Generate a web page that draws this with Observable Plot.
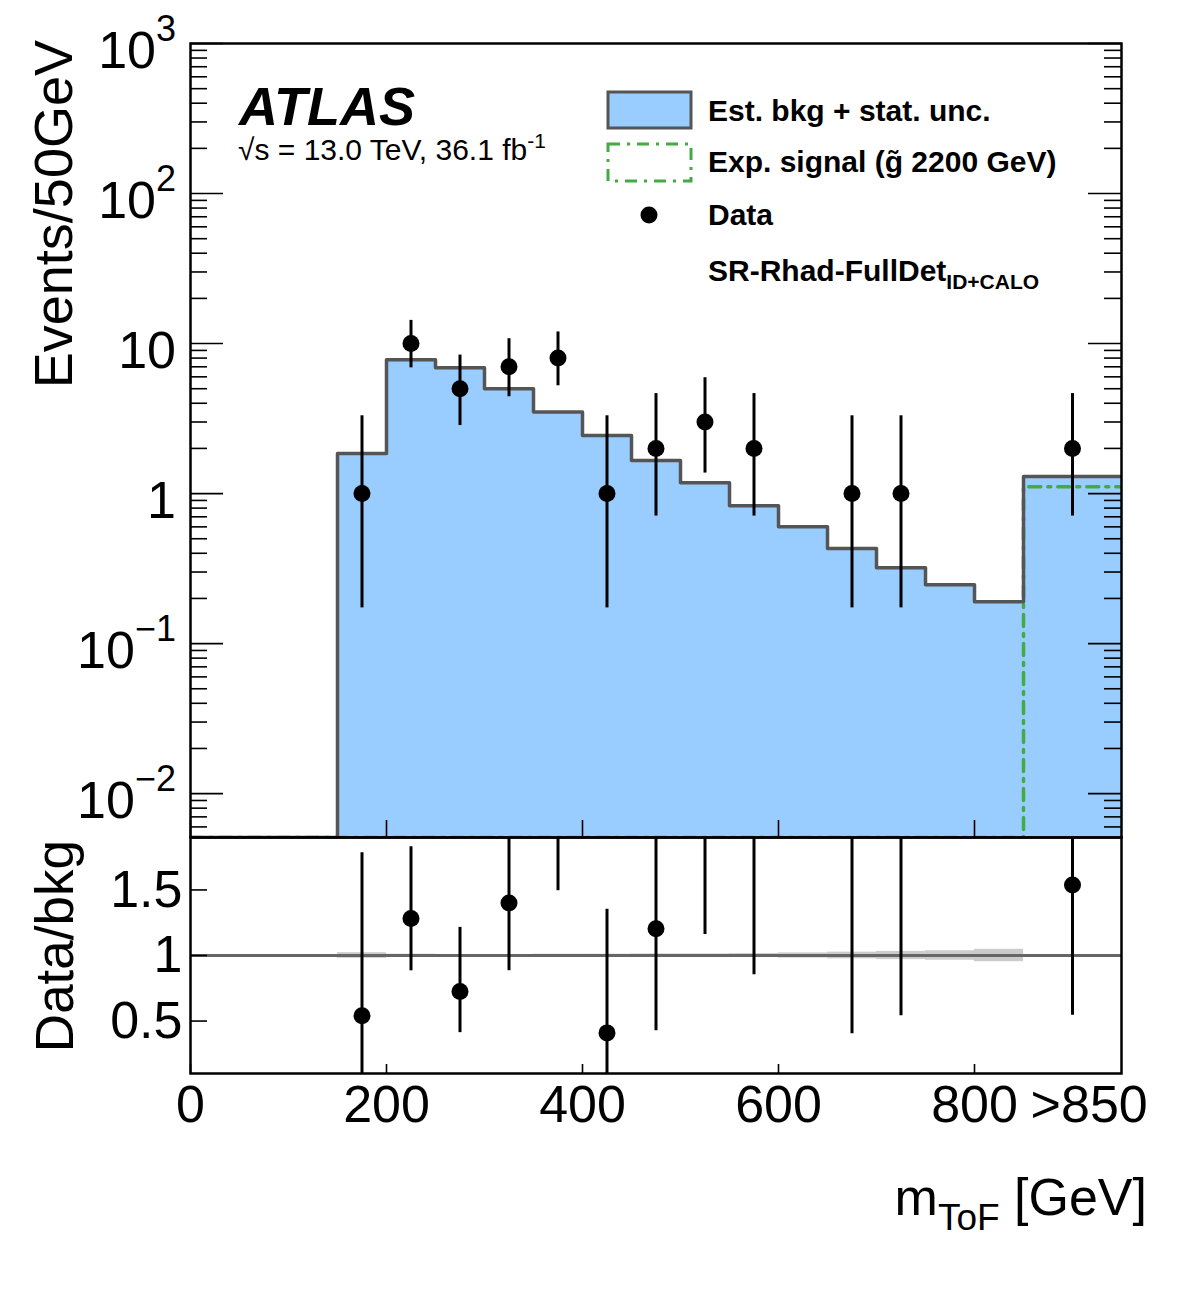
<!DOCTYPE html>
<html><head><meta charset="utf-8">
<script src="https://cdn.jsdelivr.net/npm/d3@7"></script>
<script src="https://cdn.jsdelivr.net/npm/@observablehq/plot@0.6"></script>
<style>
body{margin:0;background:#fff;}
#wrap{position:relative;width:1182px;height:1311px;background:#fff;}
#wrap svg{position:absolute;left:0;overflow:visible;}
</style></head><body><div id="wrap"></div>
<script>
// ---------- data ----------
const binEdges = [0,50,100,150,200,250,300,350,400,450,500,550,600,650,700,750,800,850,950];
const bkg = [0,0,0,1.85,7.8,6.9,5.0,3.5,2.44,1.66,1.18,0.83,0.60,0.43,0.32,0.247,0.19,1.30];
const bkgStatUnc = [0,0,0,0.04,0.08,0.055,0.04,0.035,0.025,0.02,0.014,0.012,0.012,0.011,0.01,0.009,0.009,0.007];
const signal = [0,0,0,0,0,0,0,0,0,0,0,0,0,0,0,0,0,1.11];
const dataCounts = [0,0,0,1,10,5,7,8,1,2,3,2,0,1,1,0,0,2];
const dataLow  = [0,0,0,0.173,6.89,2.84,4.42,5.23,0.173,0.708,1.37,0.708,0,0.173,0.173,0,0,0.708];
const dataHigh = [0,0,0,3.30,14.27,8.38,10.77,11.95,3.30,4.64,5.92,4.64,0,3.30,3.30,0,0,4.64];

const yMajor = [0.01,0.1,1,10,100,1000];
const yLabelBase = ["10","10","1","10","10","10"];
const yLabelExp = ["\u22122","\u22121","","","2","3"];
const ratioTicks = [0.5,1,1.5];
const ratioTickLabels = ["0.5","1","1.5"];
const xTickValues = [0,200,400,600,800];
const xLabelPos = [0,200,400,600,800,917];
const xLabelText = ["0","200","400","600","800",">850"];

// ---------- layout ----------
const FONT = '"Liberation Sans", Arial, Helvetica, sans-serif';
const W = 1182, ML = 190, MR = 61;
const PW = W - ML - MR;
const TOP_H = 794, RAT_H = 236;
const yMin = 0.0051, yMax = 1000;
const BKG_FILL = "#99ccff", LINE = "#555555", SIG = "#44aa44";
const SIG_DASH = "12,7,3,7";

const bins = bkg.map((b, i) => ({
  x1: binEdges[i], x2: binEdges[i + 1], xc: (binEdges[i] + binEdges[i + 1]) / 2,
  bkg: b, unc: bkgStatUnc[i], sig: signal[i], n: dataCounts[i], lo: dataLow[i], hi: dataHigh[i]
}));
const outline = bins.flatMap(d => [{x: d.x1, y: Math.max(d.bkg, yMin)}, {x: d.x2, y: Math.max(d.bkg, yMin)}]);
const sigLine = bins.flatMap(d => [{x: d.x1, y: Math.max(d.sig, yMin)}, {x: d.x2, y: Math.max(d.sig, yMin)}]);
const dataBins = bins.filter(d => d.n > 0);

// minor log ticks
const yMinor = [];
for (let e = -3; e <= 2; e++) for (let m = 2; m <= 9; m++) {
  const v = m * Math.pow(10, e);
  if (v >= yMin && v <= yMax) yMinor.push(v);
}

const topSvg = Plot.plot({
  width: W, height: 43 + TOP_H + 10,
  marginLeft: ML, marginRight: MR, marginTop: 43, marginBottom: 10,
  style: {background: "transparent", fontFamily: FONT},
  x: {domain: [0, 950], axis: null},
  y: {type: "log", domain: [yMin, yMax], axis: null},
  marks: [
    Plot.rect(bins.filter(d => d.bkg > 0), {x1: "x1", x2: "x2", y1: d => yMin, y2: "bkg", fill: BKG_FILL}),
    Plot.line(sigLine, {x: "x", y: "y", stroke: SIG, strokeWidth: 3.5, strokeDasharray: SIG_DASH, clip: true}),
    Plot.line(outline, {x: "x", y: "y", stroke: LINE, strokeWidth: 3.5, clip: true}),
    Plot.tickY(yMinor, {y: d => d, insetRight: PW - 17, stroke: "#000", strokeWidth: 1.6}),
    Plot.tickY(yMinor, {y: d => d, insetLeft: PW - 17, stroke: "#000", strokeWidth: 1.6}),
    Plot.tickY(yMajor, {y: d => d, insetRight: PW - 33, stroke: "#000", strokeWidth: 1.6}),
    Plot.tickY(yMajor, {y: d => d, insetLeft: PW - 33, stroke: "#000", strokeWidth: 1.6}),
    Plot.tickX(xTickValues, {x: d => d, insetTop: TOP_H - 17, stroke: "#000", strokeWidth: 1.6}),
    Plot.ruleX(dataBins, {x: "xc", y1: "lo", y2: "hi", stroke: "#000", strokeWidth: 3, clip: true}),
    Plot.dot(dataBins, {x: "xc", y: "n", r: 8.5, fill: "#000", clip: true}),
    Plot.frame({stroke: "#000", strokeWidth: 2.5})
  ]
});
topSvg.style.top = "0px";

const ratioBins = bins.filter(d => d.bkg > 0);
const ratioData = dataBins.map(d => ({xc: d.xc, r: d.n / d.bkg, lo: d.lo / d.bkg, hi: d.hi / d.bkg}));

const ratSvg = Plot.plot({
  width: W, height: 10 + RAT_H + 238,
  marginLeft: ML, marginRight: MR, marginTop: 10, marginBottom: 238,
  style: {background: "transparent", fontFamily: FONT},
  x: {domain: [0, 950], axis: null},
  y: {domain: [0.1, 1.9], axis: null},
  marks: [
    Plot.rect(ratioBins, {x1: "x1", x2: "x2", y1: d => 1 - d.unc / d.bkg, y2: d => 1 + d.unc / d.bkg, fill: "#cccccc"}),
    Plot.ruleY([1], {stroke: "#666666", strokeWidth: 3}),
    Plot.tickY(ratioTicks, {y: d => d, insetRight: PW - 17, stroke: "#000", strokeWidth: 1.6}),
    Plot.tickX(xTickValues, {x: d => d, insetTop: RAT_H - 9, stroke: "#000", strokeWidth: 1.6}),
    Plot.ruleX(ratioData, {x: "xc", y1: "lo", y2: "hi", stroke: "#000", strokeWidth: 3, clip: true}),
    Plot.dot(ratioData, {x: "xc", y: "r", r: 8.5, fill: "#000", clip: true}),
    Plot.text(ratioTicks, {y: d => d, text: (d, i) => ratioTickLabels[i], frameAnchor: "left", dx: -8, textAnchor: "end", lineAnchor: "middle", fontSize: 52, fill: "#000"}),
    Plot.text(xLabelPos, {x: d => d, text: (d, i) => xLabelText[i], frameAnchor: "bottom", lineAnchor: "middle", dy: 32, fontSize: 52, fill: "#000"}),
    Plot.frame({stroke: "#000", strokeWidth: 2.5})
  ]
});
ratSvg.style.top = "827px";

const wrap = document.getElementById("wrap");
wrap.appendChild(topSvg);
wrap.appendChild(ratSvg);

// ---------- text annotations ----------
const ysT = topSvg.scale("y");
const gT = d3.select(topSvg).append("g").attr("font-family", FONT).attr("fill", "#000").attr("text-anchor", "start");
yMajor.forEach((v, i) => {
  const t = gT.append("text").attr("x", 176).attr("y", ysT.apply(v) + 25)
    .attr("text-anchor", "end").attr("font-size", 52);
  t.append("tspan").text(yLabelBase[i]);
  if (yLabelExp[i]) t.append("tspan").attr("dy", -27).attr("font-size", 36).text(yLabelExp[i]);
});
gT.append("text").attr("transform", "translate(72,40) rotate(-90)")
  .attr("text-anchor", "end").attr("font-size", 54).text("Events/50GeV");

// ATLAS label
gT.append("text").attr("x", 239).attr("y", 125).attr("font-size", 54).attr("text-anchor", "start")
  .attr("font-weight", "bold").attr("font-style", "italic").text("ATLAS");
const lum = gT.append("text").attr("x", 238).attr("y", 160).attr("font-size", 30).attr("text-anchor", "start");
lum.append("tspan").text("\u221As = 13.0 TeV, 36.1 fb");
lum.append("tspan").attr("dy", -12).attr("font-size", 21).text("-1");

// legend
const lg = gT.append("g").attr("text-anchor", "start");
lg.append("rect").attr("x", 608).attr("y", 92).attr("width", 83).attr("height", 36)
  .attr("fill", BKG_FILL).attr("stroke", LINE).attr("stroke-width", 3);
lg.append("rect").attr("x", 608).attr("y", 144).attr("width", 83).attr("height", 37)
  .attr("fill", "none").attr("stroke", SIG).attr("stroke-width", 3).attr("stroke-dasharray", SIG_DASH);
lg.append("circle").attr("cx", 649).attr("cy", 215).attr("r", 8.5).attr("fill", "#000");
const legTexts = ["Est. bkg + stat. unc.", "Exp. signal (g\u0303 2200 GeV)", "Data"];
const legY = [111, 162, 215];
legTexts.forEach((s, i) => {
  lg.append("text").attr("x", 708).attr("y", legY[i] + 10).attr("font-size", 30)
    .attr("text-anchor", "start").attr("font-weight", "bold").text(s);
});
const sr = lg.append("text").attr("x", 708).attr("y", 281).attr("font-size", 30)
  .attr("text-anchor", "start").attr("font-weight", "bold");
sr.append("tspan").text("SR-Rhad-FullDet");
sr.append("tspan").attr("dy", 8).attr("font-size", 21).text("ID+CALO");

// ratio panel labels
const gR = d3.select(ratSvg).append("g").attr("font-family", FONT).attr("fill", "#000");
gR.append("text").attr("transform", "translate(73,13) rotate(-90)")
  .attr("text-anchor", "end").attr("font-size", 53).text("Data/bkg");
const xl = gR.append("text").attr("x", 1147).attr("y", 388).attr("text-anchor", "end").attr("font-size", 52);
xl.append("tspan").text("m");
xl.append("tspan").attr("dy", 15).attr("font-size", 37).text("ToF");
xl.append("tspan").attr("dy", -15).text(" [GeV]");
</script></body></html>
